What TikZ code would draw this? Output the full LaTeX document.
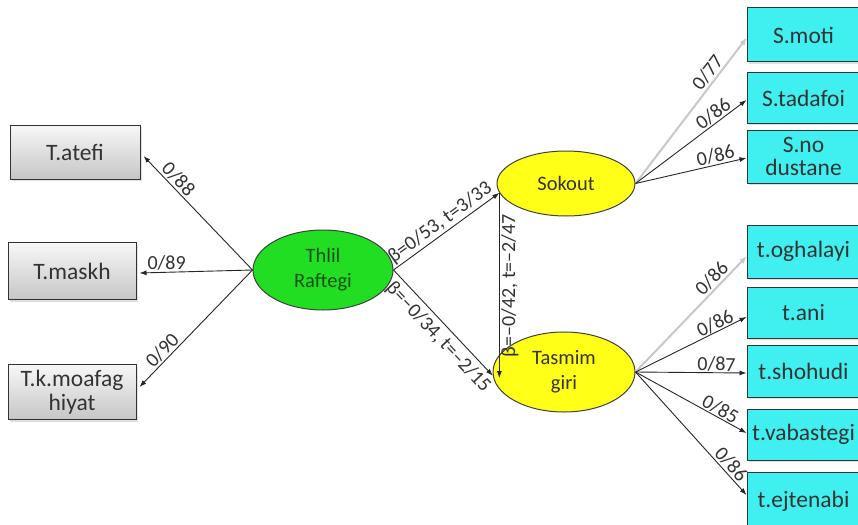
\documentclass[tikz,border=0pt]{standalone}
\usepackage{fontspec}
\setmainfont{Carlito}
\usetikzlibrary{shapes.geometric,arrows.meta,calc,shadows}
\definecolor{cyanfill}{RGB}{64,240,240}
\definecolor{greenfill}{RGB}{34,222,34}
\definecolor{yellowfill}{RGB}{255,255,24}
\definecolor{greentext}{RGB}{22,80,22}
\definecolor{lightline}{RGB}{200,200,200}
\begin{document}
\begin{tikzpicture}[x=1pt,y=-1pt,
  boxtext/.style={font=\fontsize{23.5}{27}\selectfont, text=black!80, align=center, inner sep=1pt},
  gbox/.style={boxtext, draw=black!80, line width=1pt, top color=gray!6, bottom color=gray!45,
    drop shadow={opacity=0.25, shadow xshift=2pt, shadow yshift=-2pt}},
  cbox/.style={boxtext, draw=black!80, line width=1pt, fill=cyanfill, minimum width=113,
    drop shadow={opacity=0.25, shadow xshift=2pt, shadow yshift=-2pt}},
  ell/.style={ellipse, draw=black!75, line width=1pt, align=center, inner sep=1pt,
    font=\fontsize{20.5}{25}\selectfont},
  arr/.style={draw=black!85, line width=0.9pt, -{Latex[length=7pt,width=5pt]}},
  garr/.style={draw=lightline, line width=2pt, -{Latex[length=7pt,width=6pt]}},
  lab/.style={font=\fontsize{20}{24}\selectfont, text=black!80, inner sep=1.5pt}
]
\useasboundingbox (0,0) rectangle (858,524);
\clip (0,0) rectangle (858,524);
\fill[white] (0,0) rectangle (858,524);

% left boxes
\node[gbox, minimum width=130, minimum height=54] (atefi) at (75,152) {T.atefi};
\node[gbox, minimum width=128, minimum height=57] (maskh) at (72,271) {T.maskh};
\node[gbox, minimum width=128, minimum height=55] (moafag) at (72,392) {T.k.moafag\\[-3pt]hiyat};

% ellipses
\node[ell, fill=greenfill, text=greentext, minimum width=140, minimum height=80] (thlil) at (323,270) {Thlil\\Raftegi};
\node[ell, fill=yellowfill, text=black!80, minimum width=138, minimum height=65] (sokout) at (566,183.5) {Sokout};
\node[ell, fill=yellowfill, text=black!80, minimum width=142, minimum height=80] (tasmim) at (564,372) {Tasmim\\giri};

% right boxes
\node[cbox, minimum height=54] (smoti) at (803.5,35) {S.moti};
\node[cbox, minimum height=50] (stadafoi) at (803.5,98) {S.tadafoi};
\node[cbox, minimum height=53] (snodustane) at (803.5,156.5) {S.no\\[-4pt]dustane};
\node[cbox, minimum height=53] (toghalayi) at (803.5,251.5) {t.oghalayi};
\node[cbox, minimum height=51] (tani) at (803.5,312.5) {t.ani};
\node[cbox, minimum height=52] (tshohudi) at (803.5,371) {t.shohudi};
\node[cbox, minimum height=51] (tvabastegi) at (803.5,434.5) {t.vabastegi};
\node[cbox, minimum height=58] (tejtenabi) at (803.5,501) {t.ejtenabi};

% left connectors
\draw[arr] (thlil.west) -- node[lab, sloped, above, pos=0.74] {0/88} ($(atefi.east)+(3,4)$);
\draw[arr] (thlil.west) -- node[lab, above, pos=0.76] {0/89} ($(maskh.east)+(3,2)$);
\draw[arr] (thlil.west) -- node[lab, sloped, above, pos=0.74] {0/90} ($(moafag.east)+(3,-5)$);

% structural connectors
\draw[arr] (thlil.east) -- node[lab, sloped, above, pos=0.5] {β=0/53, t=3/33} (sokout.188);
\draw[arr] (thlil.east) -- node[lab, sloped, below=3pt, pos=0.55] {β=–0/34, t=–2/15} (tasmim.183);
\draw[arr] (sokout.188) -- node[lab, rotate=90, anchor=north, pos=0.5] {β=–0/42, t=–2/47} (sokout.188 |- tasmim.185);

% Sokout indicators
\draw[garr] (sokout.east) -- node[lab, sloped, above, pos=0.72] {0/77} ($(smoti.west)+(0,3)$);
\draw[arr] (sokout.east) -- node[lab, sloped, above, pos=0.75] {0/86} ($(stadafoi.west)+(0,2)$);
\draw[arr] (sokout.east) -- node[lab, sloped, above, pos=0.74] {0/86} ($(snodustane.west)+(0,1.5)$);

% Tasmim indicators
\draw[garr] (tasmim.east) -- node[lab, sloped, above, pos=0.75] {0/86} ($(toghalayi.west)+(0,5)$);
\draw[arr] (tasmim.east) -- node[lab, sloped, above, pos=0.75, inner sep=0.5pt] {0/86} ($(tani.west)+(0,4.5)$);
\draw[arr] (tasmim.east) -- node[lab, sloped, above, pos=0.73, inner sep=0.5pt] {0/87} ($(tshohudi.west)+(0,2)$);
\draw[arr] (tasmim.east) -- node[lab, sloped, above, pos=0.73, inner sep=0.5pt] {0/85} ($(tvabastegi.west)+(0,-1.5)$);
\draw[arr] (tasmim.east) -- node[lab, sloped, above, pos=0.8] {0/86} ($(tejtenabi.west)+(0,-6)$);
\end{tikzpicture}
\end{document}
